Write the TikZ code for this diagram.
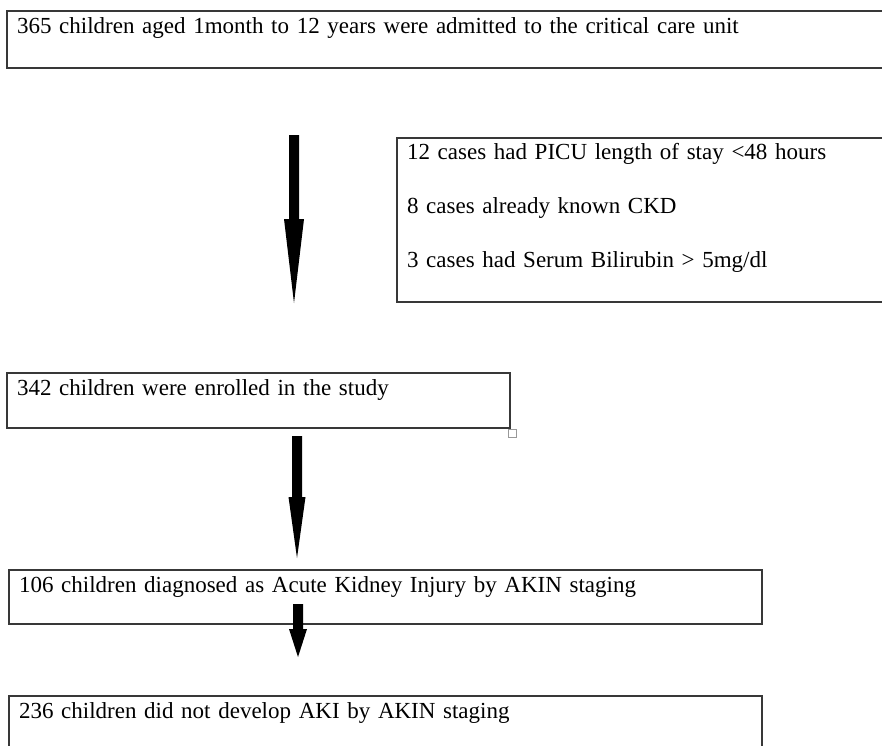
\documentclass[tikz,border=0pt]{standalone}
\usepackage{fontspec}
\setmainfont{Liberation Serif}

\newcommand{\blockarrow}[4]{%
  \fill (#1) ++(-5,0) -- ++(10,0) -- ([shift={(5,-#3)}]#2) -- ([shift={(#4,-#3)}]#2)
    -- (#2) -- ([shift={(-#4,-#3)}]#2) -- ([shift={(-5,-#3)}]#2) -- cycle;}

\begin{document}
\begin{tikzpicture}[x=1pt,y=-1pt,
  flowbox/.style={draw=black!78, line width=1.3pt, outer sep=0pt, anchor=north west,
    align=left, inner xsep=10pt, inner ysep=4pt, text height=18pt,
    font=\fontsize{23}{54}\selectfont},
  grip/.style={draw=black!40, line width=0.9pt, minimum size=8pt, inner sep=0pt}]
  \clip (0,0) rectangle (882,745);
  \node[flowbox, text width=873pt, text depth=31pt] (admitted) at (7,11)
    {365 children aged 1month to 12 years were admitted to the critical care unit};
  \node[flowbox, text width=483pt, text height=17pt, text depth=139pt] (excluded) at (397,138)
    {12 cases had PICU length of stay <48 hours\\
     8 cases already known CKD\\
     3 cases had Serum Bilirubin > 5mg/dl};
  \node[flowbox, text width=483pt, text depth=29pt] (enrolled) at (7,373)
    {342 children were enrolled in the study};
  \node[flowbox, text width=733pt, text depth=28pt] (akigroup) at (9,570)
    {106 children diagnosed as Acute Kidney Injury by AKIN staging};
  \node[flowbox, text width=733pt, text depth=40pt] (noakigroup) at (9,696)
    {236 children did not develop AKI by AKIN staging};
  \node[grip] (grip) at ([shift={(2,5)}]enrolled.south east) {};
  \coordinate (a1) at (294,135);
  \coordinate (b1) at (294,303);
  \coordinate (a2) at (297,436);
  \coordinate (b2) at (297,558);
  \coordinate (a3) at (298,604);
  \coordinate (b3) at (298,657);
  \blockarrow{a1}{b1}{84}{10}
  \blockarrow{a2}{b2}{61}{8.5}
  \blockarrow{a3}{b3}{28}{9}
\end{tikzpicture}
\end{document}
